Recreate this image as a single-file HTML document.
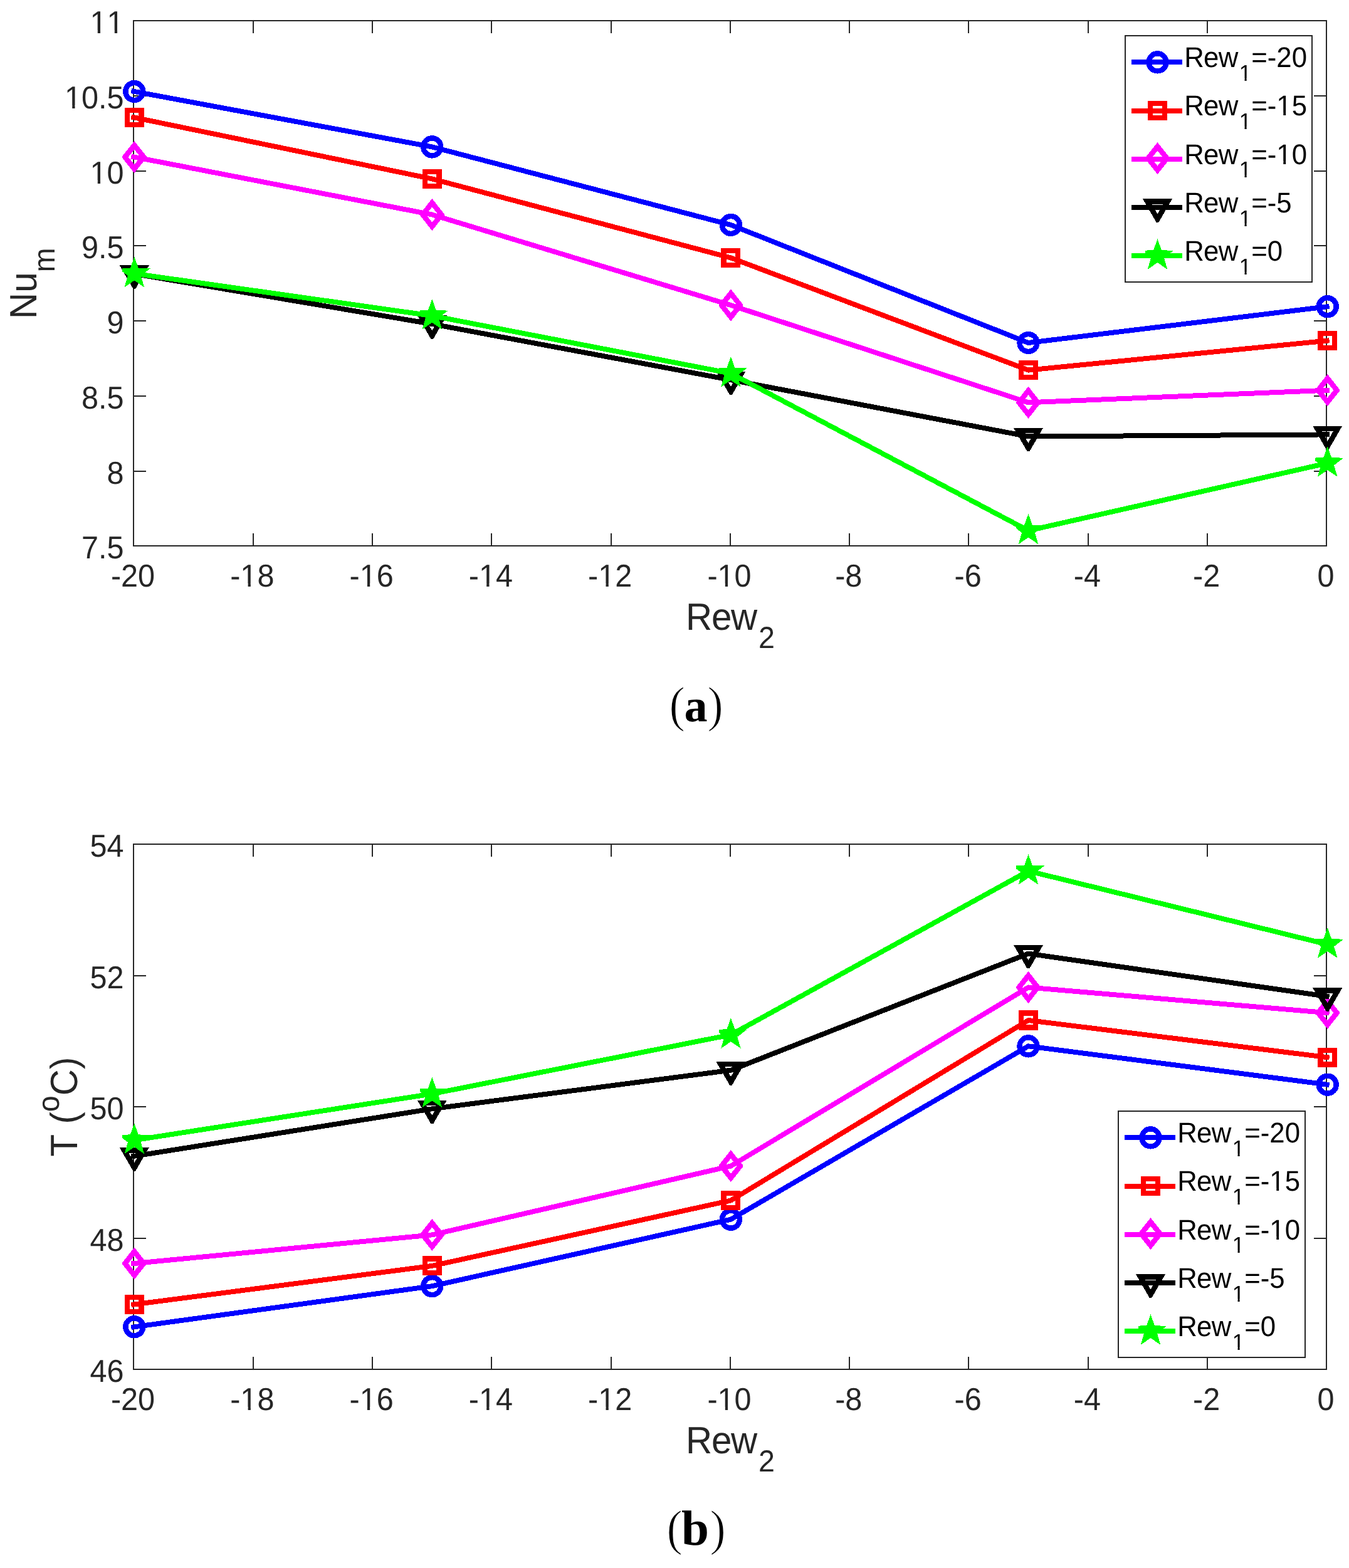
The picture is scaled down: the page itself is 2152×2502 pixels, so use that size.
<!DOCTYPE html>
<html lang="en"><head><meta charset="utf-8"><title>Nu_m and T versus Rew_2</title>
<style>html,body{margin:0;padding:0;background:#fff}svg{display:block}text{font-kerning:none;text-rendering:geometricPrecision}</style></head><body>
<svg width="2152" height="2502" viewBox="0 0 2152 2502">
<rect width="2152" height="2502" fill="#fff"/>
<g stroke="#262626" stroke-width="2" fill="none" shape-rendering="crispEdges">
<rect x="213" y="33" width="1903" height="838"/>
<path d="M404 871V850.8M404 33V52.5M594 871V850.8M594 33V52.5M784 871V850.8M784 33V52.5M975 871V850.8M975 33V52.5M1165 871V850.8M1165 33V52.5M1355 871V850.8M1355 33V52.5M1545 871V850.8M1545 33V52.5M1736 871V850.8M1736 33V52.5M1926 871V850.8M1926 33V52.5M213 153H232.5M2116 153H2095.8M213 273H232.5M2116 273H2095.8M213 392H232.5M2116 392H2095.8M213 512H232.5M2116 512H2095.8M213 632H232.5M2116 632H2095.8M213 752H232.5M2116 752H2095.8"/>
</g>
<g font-family='"Liberation Sans", sans-serif' font-size="48.6" fill="#262626">
<g text-anchor="middle">
<text transform="translate(212 936) scale(1 1.04)">-20</text>
<text transform="translate(402.3 936) scale(1 1.04)">-18</text>
<text transform="translate(592.6 936) scale(1 1.04)">-16</text>
<text transform="translate(782.9 936) scale(1 1.04)">-14</text>
<text transform="translate(973.2 936) scale(1 1.04)">-12</text>
<text transform="translate(1163.5 936) scale(1 1.04)">-10</text>
<text transform="translate(1353.8 936) scale(1 1.04)">-8</text>
<text transform="translate(1544.1 936) scale(1 1.04)">-6</text>
<text transform="translate(1734.4 936) scale(1 1.04)">-4</text>
<text transform="translate(1924.7 936) scale(1 1.04)">-2</text>
<text transform="translate(2115 936) scale(1 1.04)">0</text>
</g>
<g text-anchor="end">
<text transform="translate(197.6 53.3) scale(1 1.04)">11</text>
<text transform="translate(197.6 173.01) scale(1 1.04)">10.5</text>
<text transform="translate(197.6 292.73) scale(1 1.04)">10</text>
<text transform="translate(197.6 412.44) scale(1 1.04)">9.5</text>
<text transform="translate(197.6 532.16) scale(1 1.04)">9</text>
<text transform="translate(197.6 651.87) scale(1 1.04)">8.5</text>
<text transform="translate(197.6 771.59) scale(1 1.04)">8</text>
<text transform="translate(197.6 891.3) scale(1 1.04)">7.5</text>
</g>
</g>
<g fill="#fff"><rect x="385.74" y="931.02" width="9.85" height="6.18"/><rect x="399.88" y="931.02" width="9.59" height="6.18"/><rect x="576.04" y="931.02" width="9.85" height="6.18"/><rect x="590.18" y="931.02" width="9.59" height="6.18"/><rect x="766.34" y="931.02" width="9.85" height="6.18"/><rect x="780.48" y="931.02" width="9.59" height="6.18"/><rect x="956.64" y="931.02" width="9.85" height="6.18"/><rect x="970.78" y="931.02" width="9.59" height="6.18"/><rect x="1146.94" y="931.02" width="9.85" height="6.18"/><rect x="1161.08" y="931.02" width="9.59" height="6.18"/><rect x="145.92" y="48.32" width="9.85" height="6.18"/><rect x="160.06" y="48.32" width="9.59" height="6.18"/><rect x="172.94" y="48.32" width="9.85" height="6.18"/><rect x="187.09" y="48.32" width="9.59" height="6.18"/><rect x="105.38" y="168.04" width="9.85" height="6.18"/><rect x="119.53" y="168.04" width="9.59" height="6.18"/><rect x="145.92" y="287.75" width="9.85" height="6.18"/><rect x="160.06" y="287.75" width="9.59" height="6.18"/></g>
<text font-family='"Liberation Sans", sans-serif' font-size="58.33" fill="#262626" transform="translate(1094.1 1004.6) scale(1 1.04)"><tspan letter-spacing="-1.3">Rew</tspan><tspan x="115.8" font-size="46.67" dy="28.08">2</tspan></text>
<text font-family='"Liberation Sans", sans-serif' font-size="58.33" fill="#262626" transform="translate(58 508.9) rotate(-90) scale(1 1.04)">Nu<tspan font-size="46.67" dy="27.98">m</tspan></text>
<g shape-rendering="crispEdges">
<polyline points="213.2,145.8 689.3,234.4 1165.9,358.9 1640.5,547 2116.7,489.32" fill="none" stroke="#0000ff" stroke-width="8.0" stroke-linejoin="round" stroke-linecap="square"/>
<circle cx="214.3" cy="146" r="14" fill="none" stroke="#0000ff" stroke-width="8.4"/>
<circle cx="689.3" cy="234.4" r="14" fill="none" stroke="#0000ff" stroke-width="8.4"/>
<circle cx="1165.9" cy="358.9" r="14" fill="none" stroke="#0000ff" stroke-width="8.4"/>
<circle cx="1640.5" cy="547" r="14" fill="none" stroke="#0000ff" stroke-width="8.4"/>
<circle cx="2117.7" cy="489.2" r="14" fill="none" stroke="#0000ff" stroke-width="8.4"/>
<polyline points="213.2,187.27 689.3,285.4 1165.9,411.4 1640.5,590.6 2116.7,543.7" fill="none" stroke="#ff0000" stroke-width="8.0" stroke-linejoin="round" stroke-linecap="square"/>
<rect x="202.97" y="176.17" width="22.66" height="22.66" fill="none" stroke="#ff0000" stroke-width="8.4"/>
<rect x="677.97" y="274.07" width="22.66" height="22.66" fill="none" stroke="#ff0000" stroke-width="8.4"/>
<rect x="1154.57" y="400.07" width="22.66" height="22.66" fill="none" stroke="#ff0000" stroke-width="8.4"/>
<rect x="1629.17" y="579.27" width="22.66" height="22.66" fill="none" stroke="#ff0000" stroke-width="8.4"/>
<rect x="2106.37" y="532.27" width="22.66" height="22.66" fill="none" stroke="#ff0000" stroke-width="8.4"/>
<polyline points="213.2,250.39 689.3,342.5 1165.9,487 1640.5,642.3 2116.7,622.74" fill="none" stroke="#ff00ff" stroke-width="8.0" stroke-linejoin="round" stroke-linecap="square"/>
<path d="M214.3 225L233.7 249.47L233.7 251.73L214.3 276.2L194.9 251.73L194.9 249.47ZM214.3 238.5L204.7 250.6L214.3 262.7L223.9 250.6Z" fill="#ff00ff" fill-rule="evenodd"/>
<path d="M689.3 316.9L708.7 341.37L708.7 343.63L689.3 368.1L669.9 343.63L669.9 341.37ZM689.3 330.4L679.7 342.5L689.3 354.6L698.9 342.5Z" fill="#ff00ff" fill-rule="evenodd"/>
<path d="M1165.9 461.4L1185.3 485.87L1185.3 488.13L1165.9 512.6L1146.5 488.13L1146.5 485.87ZM1165.9 474.9L1156.3 487L1165.9 499.1L1175.5 487Z" fill="#ff00ff" fill-rule="evenodd"/>
<path d="M1640.5 616.7L1659.9 641.17L1659.9 643.43L1640.5 667.9L1621.1 643.43L1621.1 641.17ZM1640.5 630.2L1630.9 642.3L1640.5 654.4L1650.1 642.3Z" fill="#ff00ff" fill-rule="evenodd"/>
<path d="M2117.7 597.1L2137.1 621.57L2137.1 623.83L2117.7 648.3L2098.3 623.83L2098.3 621.57ZM2117.7 610.6L2108.1 622.7L2117.7 634.8L2127.3 622.7Z" fill="#ff00ff" fill-rule="evenodd"/>
<polyline points="213.2,436.81 689.3,517 1165.9,606.2 1640.5,696.5 2116.7,693.41" fill="none" stroke="#000000" stroke-width="8.0" stroke-linejoin="round" stroke-linecap="square"/>
<path d="M190.8 423.43L237.8 423.43L216.2 460.8L212.4 460.8ZM205.23 431.76L214.3 447.47L223.37 431.76Z" fill="#000000" fill-rule="evenodd"/>
<path d="M665.8 503.43L712.8 503.43L691.2 540.8L687.4 540.8ZM680.23 511.76L689.3 527.47L698.37 511.76Z" fill="#000000" fill-rule="evenodd"/>
<path d="M1142.4 592.63L1189.4 592.63L1167.8 630L1164 630ZM1156.83 600.96L1165.9 616.67L1174.97 600.96Z" fill="#000000" fill-rule="evenodd"/>
<path d="M1617 682.93L1664 682.93L1642.4 720.3L1638.6 720.3ZM1631.43 691.26L1640.5 706.97L1649.57 691.26Z" fill="#000000" fill-rule="evenodd"/>
<path d="M2094.2 679.83L2141.2 679.83L2119.6 717.2L2115.8 717.2ZM2108.63 688.16L2117.7 703.87L2126.77 688.16Z" fill="#000000" fill-rule="evenodd"/>
<polyline points="213.2,436.44 689.3,503.9 1165.9,595.8 1640.5,846.7 2116.7,739.23" fill="none" stroke="#00ff00" stroke-width="8.0" stroke-linejoin="round" stroke-linecap="square"/>
<path d="M214.3 409.8L220.77 427.7L239.79 428.32L224.76 440L230.05 458.28L214.3 447.6L198.55 458.28L203.84 440L194.9 433.05L194.9 428.12L207.83 427.7Z" fill="#00ff00"/>
<path d="M689.3 477.1L695.77 495L714.79 495.62L699.76 507.3L705.05 525.58L689.3 514.9L673.55 525.58L678.84 507.3L669.9 500.35L669.9 495.42L682.83 495Z" fill="#00ff00"/>
<path d="M1165.9 569L1172.37 586.9L1191.39 587.52L1176.36 599.2L1181.65 617.48L1165.9 606.8L1150.15 617.48L1155.44 599.2L1146.5 592.25L1146.5 587.32L1159.43 586.9Z" fill="#00ff00"/>
<path d="M1640.5 819.9L1646.97 837.8L1665.99 838.42L1650.96 850.1L1656.25 868.38L1640.5 857.7L1624.75 868.38L1630.04 850.1L1621.1 843.15L1621.1 838.22L1634.03 837.8Z" fill="#00ff00"/>
<path d="M2117.7 712.2L2124.17 730.1L2143.19 730.72L2128.16 742.4L2133.45 760.68L2117.7 750L2101.95 760.68L2107.24 742.4L2098.3 735.45L2098.3 730.52L2111.23 730.1Z" fill="#00ff00"/>
</g>
<rect x="1795" y="57" width="298" height="393" fill="#fff" stroke="#262626" stroke-width="2" shape-rendering="crispEdges"/>
<g shape-rendering="crispEdges"><path d="M1805 99.3H1886" stroke="#0000ff" stroke-width="8.0" fill="none"/>
<circle cx="1846.5" cy="99.3" r="14" fill="none" stroke="#0000ff" stroke-width="8.4"/></g>
<text font-family='"Liberation Sans", sans-serif' font-size="43.75" fill="#000" transform="translate(1889.2 107.2) scale(1 1.04)"><tspan letter-spacing="-0.7">Rew</tspan><tspan x="87.52" font-size="35.0" dy="20.96">1</tspan><tspan dy="-20.96">=-20</tspan></text>
<g fill="#fff"><rect x="1978.43" y="125.08" width="7.09" height="5.12"/><rect x="1988.62" y="125.08" width="6.9" height="5.12"/></g>
<g shape-rendering="crispEdges"><path d="M1805 176.5H1886" stroke="#ff0000" stroke-width="8.0" fill="none"/>
<rect x="1835.17" y="165.17" width="22.66" height="22.66" fill="none" stroke="#ff0000" stroke-width="8.4"/></g>
<text font-family='"Liberation Sans", sans-serif' font-size="43.75" fill="#000" transform="translate(1889.2 184.4) scale(1 1.04)"><tspan letter-spacing="-0.7">Rew</tspan><tspan x="87.52" font-size="35.0" dy="20.96">1</tspan><tspan dy="-20.96">=-15</tspan></text>
<g fill="#fff"><rect x="1978.43" y="202.28" width="7.09" height="5.12"/><rect x="1988.62" y="202.28" width="6.9" height="5.12"/><rect x="2038.44" y="179.8" width="8.87" height="5.8"/><rect x="2051.17" y="179.8" width="8.63" height="5.8"/></g>
<g shape-rendering="crispEdges"><path d="M1805 253.7H1886" stroke="#ff00ff" stroke-width="8.0" fill="none"/>
<path d="M1846.5 227L1865.9 251.47L1865.9 253.73L1846.5 278.2L1827.1 253.73L1827.1 251.47ZM1846.5 240.5L1836.9 252.6L1846.5 264.7L1856.1 252.6Z" fill="#ff00ff" fill-rule="evenodd"/></g>
<text font-family='"Liberation Sans", sans-serif' font-size="43.75" fill="#000" transform="translate(1889.2 261.6) scale(1 1.04)"><tspan letter-spacing="-0.7">Rew</tspan><tspan x="87.52" font-size="35.0" dy="20.96">1</tspan><tspan dy="-20.96">=-10</tspan></text>
<g fill="#fff"><rect x="1978.43" y="279.48" width="7.09" height="5.12"/><rect x="1988.62" y="279.48" width="6.9" height="5.12"/><rect x="2038.44" y="257" width="8.87" height="5.8"/><rect x="2051.17" y="257" width="8.63" height="5.8"/></g>
<g shape-rendering="crispEdges"><path d="M1805 330.9H1886" stroke="#000000" stroke-width="8.0" fill="none"/>
<path d="M1823 317.33L1870 317.33L1848.4 354.7L1844.6 354.7ZM1837.43 325.66L1846.5 341.37L1855.57 325.66Z" fill="#000000" fill-rule="evenodd"/></g>
<text font-family='"Liberation Sans", sans-serif' font-size="43.75" fill="#000" transform="translate(1889.2 338.8) scale(1 1.04)"><tspan letter-spacing="-0.7">Rew</tspan><tspan x="87.52" font-size="35.0" dy="20.96">1</tspan><tspan dy="-20.96">=-5</tspan></text>
<g fill="#fff"><rect x="1978.43" y="356.68" width="7.09" height="5.12"/><rect x="1988.62" y="356.68" width="6.9" height="5.12"/></g>
<g shape-rendering="crispEdges"><path d="M1805 408.1H1886" stroke="#00ff00" stroke-width="8.0" fill="none"/>
<path d="M1846.5 381.3L1852.97 399.2L1871.99 399.82L1856.96 411.5L1862.25 429.78L1846.5 419.1L1830.75 429.78L1836.04 411.5L1827.1 404.55L1827.1 399.62L1840.03 399.2Z" fill="#00ff00"/></g>
<text font-family='"Liberation Sans", sans-serif' font-size="43.75" fill="#000" transform="translate(1889.2 416) scale(1 1.04)"><tspan letter-spacing="-0.7">Rew</tspan><tspan x="87.52" font-size="35.0" dy="20.96">1</tspan><tspan dy="-20.96">=0</tspan></text>
<g fill="#fff"><rect x="1978.43" y="433.88" width="7.09" height="5.12"/><rect x="1988.62" y="433.88" width="6.9" height="5.12"/></g>
<text font-family='"Liberation Serif", serif' font-size="80" fill="#000" y="1150.6"><tspan x="1067.4" textLength="25.2" lengthAdjust="spacingAndGlyphs" stroke="#fff" stroke-width="1.2">(</tspan><tspan x="1091.5" y="1150.5" font-size="74" font-weight="bold">a</tspan><tspan x="1128.6" y="1150.6" textLength="25.2" lengthAdjust="spacingAndGlyphs" stroke="#fff" stroke-width="1.2">)</tspan></text>
<g stroke="#262626" stroke-width="2" fill="none" shape-rendering="crispEdges">
<rect x="213" y="1347" width="1903" height="838"/>
<path d="M404 2185V2164.8M404 1347V1366.5M594 2185V2164.8M594 1347V1366.5M784 2185V2164.8M784 1347V1366.5M975 2185V2164.8M975 1347V1366.5M1165 2185V2164.8M1165 1347V1366.5M1355 2185V2164.8M1355 1347V1366.5M1545 2185V2164.8M1545 1347V1366.5M1736 2185V2164.8M1736 1347V1366.5M1926 2185V2164.8M1926 1347V1366.5M213 1557H232.5M2116 1557H2095.8M213 1766H232.5M2116 1766H2095.8M213 1976H232.5M2116 1976H2095.8"/>
</g>
<g font-family='"Liberation Sans", sans-serif' font-size="48.6" fill="#262626">
<g text-anchor="middle">
<text transform="translate(212 2250) scale(1 1.04)">-20</text>
<text transform="translate(402.3 2250) scale(1 1.04)">-18</text>
<text transform="translate(592.6 2250) scale(1 1.04)">-16</text>
<text transform="translate(782.9 2250) scale(1 1.04)">-14</text>
<text transform="translate(973.2 2250) scale(1 1.04)">-12</text>
<text transform="translate(1163.5 2250) scale(1 1.04)">-10</text>
<text transform="translate(1353.8 2250) scale(1 1.04)">-8</text>
<text transform="translate(1544.1 2250) scale(1 1.04)">-6</text>
<text transform="translate(1734.4 2250) scale(1 1.04)">-4</text>
<text transform="translate(1924.7 2250) scale(1 1.04)">-2</text>
<text transform="translate(2115 2250) scale(1 1.04)">0</text>
</g>
<g text-anchor="end">
<text transform="translate(197.6 1367.3) scale(1 1.04)">54</text>
<text transform="translate(197.6 1576.8) scale(1 1.04)">52</text>
<text transform="translate(197.6 1786.3) scale(1 1.04)">50</text>
<text transform="translate(197.6 1995.8) scale(1 1.04)">48</text>
<text transform="translate(197.6 2205.3) scale(1 1.04)">46</text>
</g>
</g>
<g fill="#fff"><rect x="385.74" y="2245.02" width="9.85" height="6.18"/><rect x="399.88" y="2245.02" width="9.59" height="6.18"/><rect x="576.04" y="2245.02" width="9.85" height="6.18"/><rect x="590.18" y="2245.02" width="9.59" height="6.18"/><rect x="766.34" y="2245.02" width="9.85" height="6.18"/><rect x="780.48" y="2245.02" width="9.59" height="6.18"/><rect x="956.64" y="2245.02" width="9.85" height="6.18"/><rect x="970.78" y="2245.02" width="9.59" height="6.18"/><rect x="1146.94" y="2245.02" width="9.85" height="6.18"/><rect x="1161.08" y="2245.02" width="9.59" height="6.18"/></g>
<text font-family='"Liberation Sans", sans-serif' font-size="58.33" fill="#262626" transform="translate(1094.1 2318.6) scale(1 1.04)"><tspan letter-spacing="-1.3">Rew</tspan><tspan x="115.8" font-size="46.67" dy="28.08">2</tspan></text>
<text font-family='"Liberation Sans", sans-serif' font-size="58.33" fill="#262626" transform="translate(122.8 1845.4) rotate(-90) scale(1 1.04)">T (<tspan font-size="46.67" dy="-27.31">o</tspan><tspan dy="27.31">C)</tspan></text>
<g shape-rendering="crispEdges">
<polyline points="213.2,2117.45 689.3,2052.2 1165.9,1945.7 1640.5,1669.3 2116.7,1730.57" fill="none" stroke="#0000ff" stroke-width="8.0" stroke-linejoin="round" stroke-linecap="square"/>
<circle cx="214.3" cy="2117.3" r="14" fill="none" stroke="#0000ff" stroke-width="8.4"/>
<circle cx="689.3" cy="2052.2" r="14" fill="none" stroke="#0000ff" stroke-width="8.4"/>
<circle cx="1165.9" cy="1945.7" r="14" fill="none" stroke="#0000ff" stroke-width="8.4"/>
<circle cx="1640.5" cy="1669.3" r="14" fill="none" stroke="#0000ff" stroke-width="8.4"/>
<circle cx="2117.7" cy="1730.7" r="14" fill="none" stroke="#0000ff" stroke-width="8.4"/>
<polyline points="213.2,2081.54 689.3,2019.9 1165.9,1915.5 1640.5,1628 2116.7,1687.08" fill="none" stroke="#ff0000" stroke-width="8.0" stroke-linejoin="round" stroke-linecap="square"/>
<rect x="202.97" y="2070.07" width="22.66" height="22.66" fill="none" stroke="#ff0000" stroke-width="8.4"/>
<rect x="677.97" y="2008.57" width="22.66" height="22.66" fill="none" stroke="#ff0000" stroke-width="8.4"/>
<rect x="1154.57" y="1904.17" width="22.66" height="22.66" fill="none" stroke="#ff0000" stroke-width="8.4"/>
<rect x="1629.17" y="1616.67" width="22.66" height="22.66" fill="none" stroke="#ff0000" stroke-width="8.4"/>
<rect x="2106.37" y="1675.87" width="22.66" height="22.66" fill="none" stroke="#ff0000" stroke-width="8.4"/>
<polyline points="213.2,2016.11 689.3,1970.4 1165.9,1860.6 1640.5,1575.5 2116.7,1616.11" fill="none" stroke="#ff00ff" stroke-width="8.0" stroke-linejoin="round" stroke-linecap="square"/>
<path d="M214.3 1990.4L233.7 2014.87L233.7 2017.13L214.3 2041.6L194.9 2017.13L194.9 2014.87ZM214.3 2003.9L204.7 2016L214.3 2028.1L223.9 2016Z" fill="#ff00ff" fill-rule="evenodd"/>
<path d="M689.3 1944.8L708.7 1969.27L708.7 1971.53L689.3 1996L669.9 1971.53L669.9 1969.27ZM689.3 1958.3L679.7 1970.4L689.3 1982.5L698.9 1970.4Z" fill="#ff00ff" fill-rule="evenodd"/>
<path d="M1165.9 1835L1185.3 1859.47L1185.3 1861.73L1165.9 1886.2L1146.5 1861.73L1146.5 1859.47ZM1165.9 1848.5L1156.3 1860.6L1165.9 1872.7L1175.5 1860.6Z" fill="#ff00ff" fill-rule="evenodd"/>
<path d="M1640.5 1549.9L1659.9 1574.37L1659.9 1576.63L1640.5 1601.1L1621.1 1576.63L1621.1 1574.37ZM1640.5 1563.4L1630.9 1575.5L1640.5 1587.6L1650.1 1575.5Z" fill="#ff00ff" fill-rule="evenodd"/>
<path d="M2117.7 1590.6L2137.1 1615.07L2137.1 1617.33L2117.7 1641.8L2098.3 1617.33L2098.3 1615.07ZM2117.7 1604.1L2108.1 1616.2L2117.7 1628.3L2127.3 1616.2Z" fill="#ff00ff" fill-rule="evenodd"/>
<polyline points="213.2,1844.97 689.3,1769.3 1165.9,1707.7 1640.5,1521.6 2116.7,1589.86" fill="none" stroke="#000000" stroke-width="8.0" stroke-linejoin="round" stroke-linecap="square"/>
<path d="M190.8 1831.23L237.8 1831.23L216.2 1868.6L212.4 1868.6ZM205.23 1839.56L214.3 1855.27L223.37 1839.56Z" fill="#000000" fill-rule="evenodd"/>
<path d="M665.8 1755.73L712.8 1755.73L691.2 1793.1L687.4 1793.1ZM680.23 1764.06L689.3 1779.77L698.37 1764.06Z" fill="#000000" fill-rule="evenodd"/>
<path d="M1142.4 1694.13L1189.4 1694.13L1167.8 1731.5L1164 1731.5ZM1156.83 1702.46L1165.9 1718.17L1174.97 1702.46Z" fill="#000000" fill-rule="evenodd"/>
<path d="M1617 1508.03L1664 1508.03L1642.4 1545.4L1638.6 1545.4ZM1631.43 1516.36L1640.5 1532.07L1649.57 1516.36Z" fill="#000000" fill-rule="evenodd"/>
<path d="M2094.2 1576.43L2141.2 1576.43L2119.6 1613.8L2115.8 1613.8ZM2108.63 1584.76L2117.7 1600.47L2126.77 1584.76Z" fill="#000000" fill-rule="evenodd"/>
<polyline points="213.2,1819.47 689.3,1745.4 1165.9,1651.2 1640.5,1389.8 2116.7,1506.75" fill="none" stroke="#00ff00" stroke-width="8.0" stroke-linejoin="round" stroke-linecap="square"/>
<path d="M214.3 1792.5L220.77 1810.4L239.79 1811.02L224.76 1822.7L230.05 1840.98L214.3 1830.3L198.55 1840.98L203.84 1822.7L194.9 1815.75L194.9 1810.82L207.83 1810.4Z" fill="#00ff00"/>
<path d="M689.3 1718.6L695.77 1736.5L714.79 1737.12L699.76 1748.8L705.05 1767.08L689.3 1756.4L673.55 1767.08L678.84 1748.8L669.9 1741.85L669.9 1736.92L682.83 1736.5Z" fill="#00ff00"/>
<path d="M1165.9 1624.4L1172.37 1642.3L1191.39 1642.92L1176.36 1654.6L1181.65 1672.88L1165.9 1662.2L1150.15 1672.88L1155.44 1654.6L1146.5 1647.65L1146.5 1642.72L1159.43 1642.3Z" fill="#00ff00"/>
<path d="M1640.5 1363L1646.97 1380.9L1665.99 1381.52L1650.96 1393.2L1656.25 1411.48L1640.5 1400.8L1624.75 1411.48L1630.04 1393.2L1621.1 1386.25L1621.1 1381.32L1634.03 1380.9Z" fill="#00ff00"/>
<path d="M2117.7 1480.2L2124.17 1498.1L2143.19 1498.72L2128.16 1510.4L2133.45 1528.68L2117.7 1518L2101.95 1528.68L2107.24 1510.4L2098.3 1503.45L2098.3 1498.52L2111.23 1498.1Z" fill="#00ff00"/>
</g>
<rect x="1784" y="1773" width="298" height="393" fill="#fff" stroke="#262626" stroke-width="2" shape-rendering="crispEdges"/>
<g shape-rendering="crispEdges"><path d="M1794 1815.3H1875" stroke="#0000ff" stroke-width="8.0" fill="none"/>
<circle cx="1835.5" cy="1815.3" r="14" fill="none" stroke="#0000ff" stroke-width="8.4"/></g>
<text font-family='"Liberation Sans", sans-serif' font-size="43.75" fill="#000" transform="translate(1878.2 1823.2) scale(1 1.04)"><tspan letter-spacing="-0.7">Rew</tspan><tspan x="87.52" font-size="35.0" dy="20.96">1</tspan><tspan dy="-20.96">=-20</tspan></text>
<g fill="#fff"><rect x="1967.43" y="1841.08" width="7.09" height="5.12"/><rect x="1977.62" y="1841.08" width="6.9" height="5.12"/></g>
<g shape-rendering="crispEdges"><path d="M1794 1892.5H1875" stroke="#ff0000" stroke-width="8.0" fill="none"/>
<rect x="1824.17" y="1881.17" width="22.66" height="22.66" fill="none" stroke="#ff0000" stroke-width="8.4"/></g>
<text font-family='"Liberation Sans", sans-serif' font-size="43.75" fill="#000" transform="translate(1878.2 1900.4) scale(1 1.04)"><tspan letter-spacing="-0.7">Rew</tspan><tspan x="87.52" font-size="35.0" dy="20.96">1</tspan><tspan dy="-20.96">=-15</tspan></text>
<g fill="#fff"><rect x="1967.43" y="1918.28" width="7.09" height="5.12"/><rect x="1977.62" y="1918.28" width="6.9" height="5.12"/><rect x="2027.44" y="1895.8" width="8.87" height="5.8"/><rect x="2040.17" y="1895.8" width="8.63" height="5.8"/></g>
<g shape-rendering="crispEdges"><path d="M1794 1969.7H1875" stroke="#ff00ff" stroke-width="8.0" fill="none"/>
<path d="M1835.5 1943L1854.9 1967.47L1854.9 1969.73L1835.5 1994.2L1816.1 1969.73L1816.1 1967.47ZM1835.5 1956.5L1825.9 1968.6L1835.5 1980.7L1845.1 1968.6Z" fill="#ff00ff" fill-rule="evenodd"/></g>
<text font-family='"Liberation Sans", sans-serif' font-size="43.75" fill="#000" transform="translate(1878.2 1977.6) scale(1 1.04)"><tspan letter-spacing="-0.7">Rew</tspan><tspan x="87.52" font-size="35.0" dy="20.96">1</tspan><tspan dy="-20.96">=-10</tspan></text>
<g fill="#fff"><rect x="1967.43" y="1995.48" width="7.09" height="5.12"/><rect x="1977.62" y="1995.48" width="6.9" height="5.12"/><rect x="2027.44" y="1973" width="8.87" height="5.8"/><rect x="2040.17" y="1973" width="8.63" height="5.8"/></g>
<g shape-rendering="crispEdges"><path d="M1794 2046.9H1875" stroke="#000000" stroke-width="8.0" fill="none"/>
<path d="M1812 2033.33L1859 2033.33L1837.4 2070.7L1833.6 2070.7ZM1826.43 2041.66L1835.5 2057.37L1844.57 2041.66Z" fill="#000000" fill-rule="evenodd"/></g>
<text font-family='"Liberation Sans", sans-serif' font-size="43.75" fill="#000" transform="translate(1878.2 2054.8) scale(1 1.04)"><tspan letter-spacing="-0.7">Rew</tspan><tspan x="87.52" font-size="35.0" dy="20.96">1</tspan><tspan dy="-20.96">=-5</tspan></text>
<g fill="#fff"><rect x="1967.43" y="2072.68" width="7.09" height="5.12"/><rect x="1977.62" y="2072.68" width="6.9" height="5.12"/></g>
<g shape-rendering="crispEdges"><path d="M1794 2124.1H1875" stroke="#00ff00" stroke-width="8.0" fill="none"/>
<path d="M1835.5 2097.3L1841.97 2115.2L1860.99 2115.82L1845.96 2127.5L1851.25 2145.78L1835.5 2135.1L1819.75 2145.78L1825.04 2127.5L1816.1 2120.55L1816.1 2115.62L1829.03 2115.2Z" fill="#00ff00"/></g>
<text font-family='"Liberation Sans", sans-serif' font-size="43.75" fill="#000" transform="translate(1878.2 2132) scale(1 1.04)"><tspan letter-spacing="-0.7">Rew</tspan><tspan x="87.52" font-size="35.0" dy="20.96">1</tspan><tspan dy="-20.96">=0</tspan></text>
<g fill="#fff"><rect x="1967.43" y="2149.88" width="7.09" height="5.12"/><rect x="1977.62" y="2149.88" width="6.9" height="5.12"/></g>
<text font-family='"Liberation Serif", serif' font-size="80" fill="#000" y="2464.6"><tspan x="1063.5" textLength="25.2" lengthAdjust="spacingAndGlyphs" stroke="#fff" stroke-width="1.2">(</tspan><tspan x="1087" y="2464.5" font-size="79" font-weight="bold">b</tspan><tspan x="1132.5" y="2464.6" textLength="25.2" lengthAdjust="spacingAndGlyphs" stroke="#fff" stroke-width="1.2">)</tspan></text>
</svg></body></html>
